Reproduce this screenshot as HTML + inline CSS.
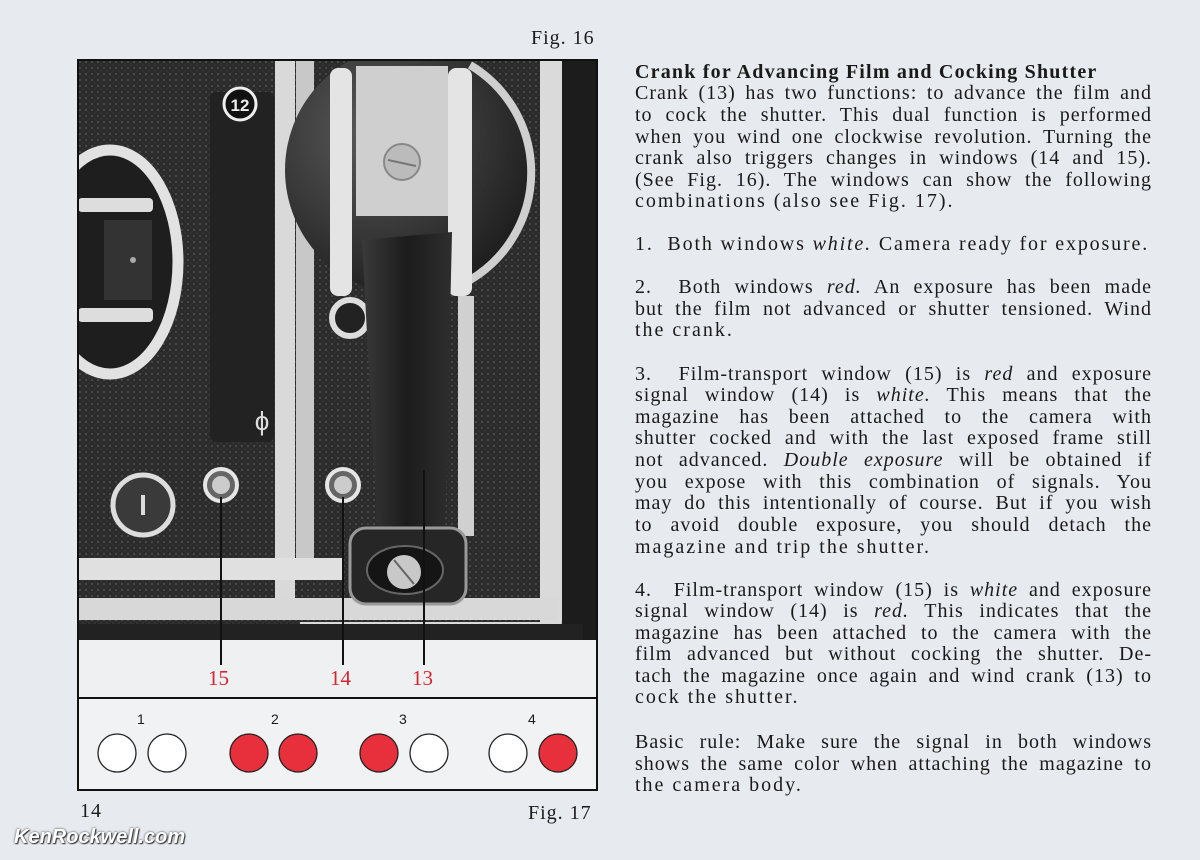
<!DOCTYPE html>
<html><head><meta charset="utf-8">
<style>
html,body{margin:0;padding:0;}
body{width:1200px;height:860px;background:#e7eaee;position:relative;overflow:hidden;font-family:"Liberation Serif",serif;color:#1a1a1a;}
.l{position:absolute;left:635px;width:517px;font-size:20px;line-height:22px;white-space:nowrap;letter-spacing:2px;}
.j{text-align:justify;text-align-last:justify;white-space:normal;letter-spacing:1px;}
.cap{position:absolute;font-size:20px;letter-spacing:1px;}
.red{position:absolute;color:#d5262e;font-size:21px;top:666px;}
.n{position:absolute;top:711px;font-family:"Liberation Sans",sans-serif;font-size:14px;}
</style></head><body>

<div class="cap" style="left:531px;top:27px;">Fig. 16</div>

<svg style="position:absolute;left:0;top:0" width="1200" height="860">
 <defs>
  <pattern id="tex" width="6" height="6" patternUnits="userSpaceOnUse">
   <rect width="6" height="6" fill="#2b2b2b"/><circle cx="2" cy="2" r="1.1" fill="#4a4a4a"/><circle cx="5" cy="5" r="0.8" fill="#3c3c3c"/>
  </pattern>
  <radialGradient id="disc" cx="0.35" cy="0.35" r="0.8"><stop offset="0" stop-color="#5a5a5a"/><stop offset="1" stop-color="#151515"/></radialGradient>
  <linearGradient id="crk" x1="0" x2="1"><stop offset="0" stop-color="#3a3a3a"/><stop offset="0.5" stop-color="#1c1c1c"/><stop offset="1" stop-color="#2e2e2e"/></linearGradient>
  <clipPath id="ph"><rect x="78" y="60" width="519" height="638"/></clipPath>
 </defs>
 <g clip-path="url(#ph)">
 <rect x="78" y="60" width="519" height="580" fill="url(#tex)"/>
 <rect x="560" y="60" width="37" height="580" fill="#1c1c1c"/>
 <rect x="210" y="92" width="64" height="350" rx="6" fill="#222"/>
 <ellipse cx="110" cy="262" rx="68" ry="112" fill="#1e1e1e" stroke="#e2e2e2" stroke-width="11"/>
 <rect x="78" y="198" width="75" height="14" rx="4" fill="#ddd"/>
 <rect x="78" y="308" width="75" height="14" rx="4" fill="#ddd"/>
 <rect x="104" y="220" width="48" height="80" fill="#333"/>
 <circle cx="133" cy="260" r="3" fill="#aaa"/>
 <circle cx="240" cy="104" r="16" fill="#111" stroke="#eee" stroke-width="3"/>
 <text x="240" y="111" font-family="Liberation Sans" font-weight="bold" font-size="17" fill="#eee" text-anchor="middle">12</text>
 <text x="262" y="430" font-family="Liberation Sans" font-size="26" fill="#ddd" text-anchor="middle">ϕ</text>
 <rect x="275" y="60" width="20" height="560" fill="#d9d9d9"/>
 <rect x="296" y="60" width="18" height="500" fill="#c8c8c8"/>
 <path d="M540 60 H562 V620 Q562 645 540 645 H300 V622 H540 Z" fill="#dadada"/>
 <rect x="78" y="558" width="265" height="22" fill="#e0e0e0"/>
 <rect x="78" y="598" width="480" height="22" fill="#d8d8d8"/>
 <rect x="78" y="624" width="505" height="16" fill="#222"/>
 <circle cx="410" cy="170" r="125" fill="url(#disc)"/>
 <path d="M470 65 A125 125 0 0 1 470 280" fill="none" stroke="#cfcfcf" stroke-width="8"/>
 <rect x="356" y="66" width="92" height="150" fill="#cfcfcf"/>
 <circle cx="402" cy="162" r="18" fill="#bbb" stroke="#888" stroke-width="2"/>
 <line x1="388" y1="160" x2="416" y2="166" stroke="#777" stroke-width="2"/>
 <rect x="330" y="68" width="22" height="228" rx="8" fill="#e4e4e4"/>
 <rect x="448" y="68" width="24" height="228" rx="8" fill="#e4e4e4"/>
 <rect x="458" y="296" width="16" height="240" fill="#d0d0d0"/>
 <circle cx="350" cy="318" r="18" fill="#222" stroke="#ddd" stroke-width="6"/>
 <path d="M362 240 L452 232 L445 540 L378 540 Z" fill="url(#crk)"/>
 <rect x="350" y="528" width="116" height="76" rx="16" fill="#262626" stroke="#999" stroke-width="3"/>
 <ellipse cx="405" cy="570" rx="38" ry="24" fill="#151515" stroke="#666" stroke-width="2"/>
 <circle cx="404" cy="572" r="17" fill="#c8c8c8"/>
 <line x1="394" y1="560" x2="414" y2="584" stroke="#666" stroke-width="2"/>
 <circle cx="221" cy="485" r="16" fill="#666" stroke="#e6e6e6" stroke-width="4"/>
 <circle cx="221" cy="485" r="9" fill="#ccc"/>
 <circle cx="343" cy="485" r="16" fill="#666" stroke="#e6e6e6" stroke-width="4"/>
 <circle cx="343" cy="485" r="9" fill="#ccc"/>
 <circle cx="143" cy="505" r="30" fill="#3a3a3a" stroke="#ddd" stroke-width="5"/>
 <rect x="141" y="495" width="4" height="20" fill="#ddd"/>
 <rect x="78" y="640" width="519" height="58" fill="#eef0f2"/>
 </g>
 <line x1="221" y1="497" x2="221" y2="665" stroke="#111" stroke-width="2"/>
 <line x1="343" y1="497" x2="343" y2="665" stroke="#111" stroke-width="2"/>
 <line x1="424" y1="470" x2="424" y2="665" stroke="#111" stroke-width="2"/>
 <rect x="78" y="60" width="519" height="638" fill="none" stroke="#111" stroke-width="2"/>
 <rect x="78" y="698" width="519" height="92" fill="#f0f2f4" stroke="#111" stroke-width="2"/>
 <g stroke="#222" stroke-width="1.3">
  <circle cx="117" cy="753" r="19" fill="#fff"/><circle cx="167" cy="753" r="19" fill="#fff"/>
  <circle cx="249" cy="753" r="19" fill="#e8303c"/><circle cx="298" cy="753" r="19" fill="#e8303c"/>
  <circle cx="379" cy="753" r="19" fill="#e8303c"/><circle cx="429" cy="753" r="19" fill="#fff"/>
  <circle cx="508" cy="753" r="19" fill="#fff"/><circle cx="558" cy="753" r="19" fill="#e8303c"/>
 </g>
</svg>
<div class="red" style="left:208px;">15</div>
<div class="red" style="left:330px;">14</div>
<div class="red" style="left:412px;">13</div>
<div class="n" style="left:137px;">1</div>
<div class="n" style="left:271px;">2</div>
<div class="n" style="left:399px;">3</div>
<div class="n" style="left:528px;">4</div>
<div class="cap" style="left:80px;top:800px;">14</div>
<div class="cap" style="left:528px;top:802px;">Fig. 17</div>
<div style="position:absolute;left:14px;top:826px;font-family:'Liberation Sans',sans-serif;font-weight:bold;font-style:italic;font-size:20px;color:#fff;text-shadow:0 0 2px #333,1px 1px 1px #333;">KenRockwell.com</div>

<div class="l" style="top:61px;font-weight:bold;letter-spacing:1.2px;">Crank for Advancing Film and Cocking Shutter</div>
<div class="l j" style="top:82px;">Crank (13) has two functions: to advance the film and</div>
<div class="l j" style="top:104px;">to cock the shutter. This dual function is performed</div>
<div class="l j" style="top:126px;">when you wind one clockwise revolution. Turning the</div>
<div class="l j" style="top:147px;">crank also triggers changes in windows (14 and 15).</div>
<div class="l j" style="top:169px;">(See Fig. 16). The windows can show the following</div>
<div class="l" style="top:190px;">combinations (also see Fig. 17).</div>

<div class="l" style="top:233px;letter-spacing:1.85px;">1.&nbsp; Both windows <i>white.</i> Camera ready for exposure.</div>

<div class="l j" style="top:276px;">2.&nbsp; Both windows <i>red.</i> An exposure has been made</div>
<div class="l j" style="top:298px;">but the film not advanced or shutter tensioned. Wind</div>
<div class="l" style="top:319px;">the crank.</div>

<div class="l j" style="top:363px;">3.&nbsp; Film-transport window (15) is <i>red</i> and exposure</div>
<div class="l j" style="top:384px;">signal window (14) is <i>white.</i> This means that the</div>
<div class="l j" style="top:406px;">magazine has been attached to the camera with</div>
<div class="l j" style="top:427px;">shutter cocked and with the last exposed frame still</div>
<div class="l j" style="top:449px;">not advanced. <i>Double exposure</i> will be obtained if</div>
<div class="l j" style="top:471px;">you expose with this combination of signals. You</div>
<div class="l j" style="top:492px;">may do this intentionally of course. But if you wish</div>
<div class="l j" style="top:514px;">to avoid double exposure, you should detach the</div>
<div class="l" style="top:536px;">magazine and trip the shutter.</div>

<div class="l j" style="top:579px;">4.&nbsp; Film-transport window (15) is <i>white</i> and exposure</div>
<div class="l j" style="top:600px;">signal window (14) is <i>red.</i> This indicates that the</div>
<div class="l j" style="top:622px;">magazine has been attached to the camera with the</div>
<div class="l j" style="top:643px;">film advanced but without cocking the shutter. De-</div>
<div class="l j" style="top:665px;">tach the magazine once again and wind crank (13) to</div>
<div class="l" style="top:686px;">cock the shutter.</div>

<div class="l j" style="top:731px;">Basic rule: Make sure the signal in both windows</div>
<div class="l j" style="top:753px;">shows the same color when attaching the magazine to</div>
<div class="l" style="top:774px;">the camera body.</div>
</body></html>
